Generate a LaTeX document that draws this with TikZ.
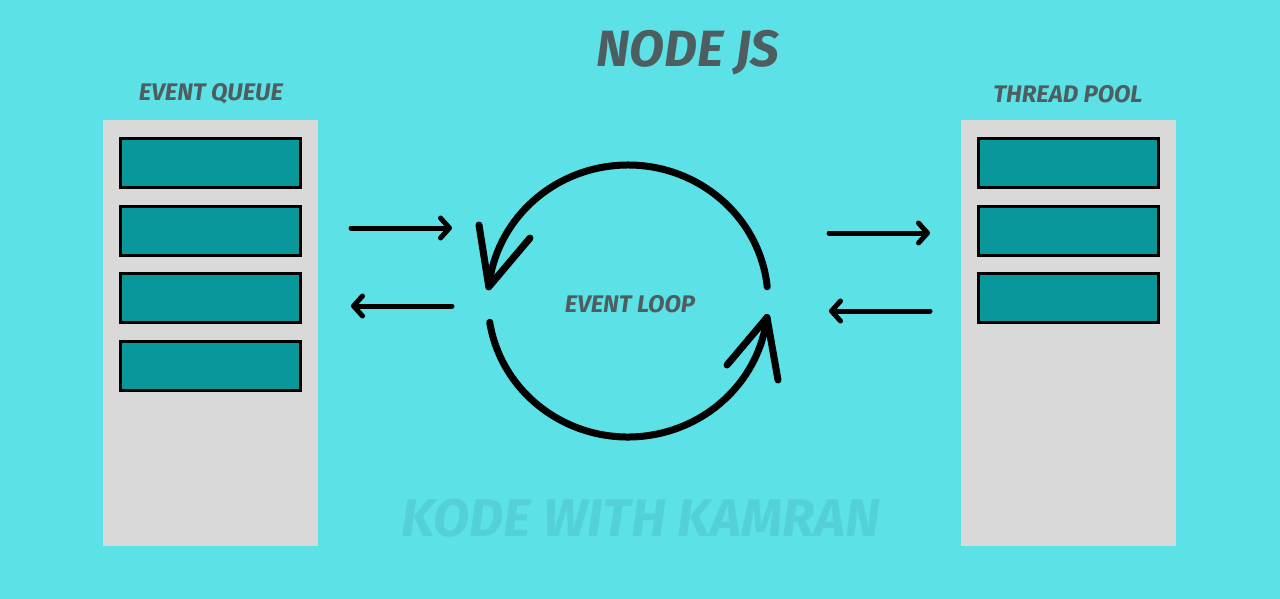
\documentclass[tikz,border=0pt]{standalone}
\usepackage{fontspec}
\setmainfont{Fira Sans}
\usetikzlibrary{arrows.meta}
\definecolor{bg}{HTML}{5CE1E6}
\definecolor{colgrey}{HTML}{D9D9D9}
\definecolor{slotteal}{HTML}{08979A}
\definecolor{txt}{HTML}{4E5D5F}
\definecolor{wmark}{HTML}{54D0D8}
\begin{document}
\begin{tikzpicture}[x=1pt,y=-1pt,
  col/.style={fill=colgrey, draw=none, minimum width=215pt, minimum height=426pt, inner sep=0pt},
  slot/.style={fill=slotteal, draw=black, line width=3pt, minimum width=180pt, minimum height=49pt, inner sep=0pt},
  lbl/.style={text=txt, font=\fontsize{24}{26}\selectfont\bfseries\itshape, inner sep=0pt},
  ttl/.style={text=txt, font=\fontsize{51}{55}\selectfont\bfseries\itshape, inner sep=0pt},
  wm/.style={text=wmark, font=\fontsize{53}{57}\selectfont\bfseries\itshape, inner sep=0pt},
  flow/.style={draw=black, line width=5pt, line cap=round, -{Straight Barb[round, length=9pt, width=20pt]}},
  loopline/.style={draw=black, line width=7pt, line cap=round, line join=round}]
\useasboundingbox[fill=bg] (0,0) rectangle (1280,599);

% title and labels
\node[ttl] (title) at (688,53) {NODE JS};
\node[lbl] (eqlabel) at (211,94) {EVENT QUEUE};
\node[lbl] (tplabel) at (1068,94) {THREAD POOL};
\node[wm] (wmark) at (641,518) {KODE WITH KAMRAN};

% columns
\node[col] (queue) at (210.5,333) {};
\node[col] (pool) at (1068.5,333) {};

% slots
\node[slot] (q1) at (210.5,163) {};
\node[slot] (q2) at (210.5,231) {};
\node[slot] (q3) at (210.5,298) {};
\node[slot] (q4) at (210.5,365.5) {};
\node[slot] (p1) at (1068.5,163) {};
\node[slot] (p2) at (1068.5,231) {};
\node[slot] (p3) at (1068.5,298) {};

% event loop
\coordinate (c) at (628,301);
\node[lbl] (looplabel) at (630,304) {EVENT LOOP};
\coordinate (tipA) at (488.8,286.8);
\coordinate (tipB) at (767,317.6);
\draw[loopline] ([shift={(-6:140 and 136)}]c) arc[start angle=-6, end angle=-174, x radius=140, y radius=136];
\draw[loopline] (479,225) -- (tipA) -- (530,238);
\draw[loopline] ([shift={(171:140 and 136)}]c) arc[start angle=171, end angle=7, x radius=140, y radius=136];
\draw[loopline] (778,380) -- (tipB) -- (727,365);

% flow arrows
\coordinate (l1s) at (351,228);
\coordinate (l1e) at (452,228);
\coordinate (l2s) at (452,306);
\coordinate (l2e) at (351,306);
\coordinate (r1s) at (829,233);
\coordinate (r1e) at (930,233);
\coordinate (r2s) at (930,311);
\coordinate (r2e) at (829,311);
\draw[flow] (l1s) -- (l1e);
\draw[flow] (l2s) -- (l2e);
\draw[flow] (r1s) -- (r1e);
\draw[flow] (r2s) -- (r2e);
\end{tikzpicture}
\end{document}
